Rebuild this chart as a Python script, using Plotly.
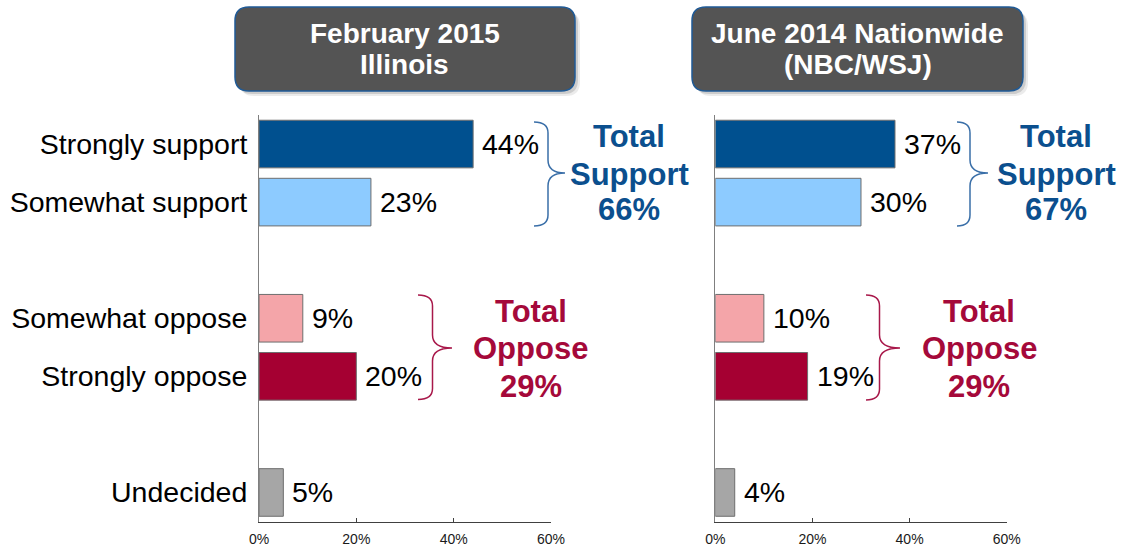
import plotly.graph_objects as go

# ---------------- data ----------------
categories = ["Strongly support", "Somewhat support", "Somewhat oppose", "Strongly oppose", "Undecided"]
category_order = ["Strongly support", "Somewhat support", " ", "Somewhat oppose", "Strongly oppose", "  ", "Undecided"]
illinois_values = [44, 23, 9, 20, 5]
nationwide_values = [37, 30, 10, 19, 4]
bar_colors = ["#00508F", "#8DCBFF", "#F4A5A9", "#A50032", "#A6A6A6"]
panel_titles = [["February 2015", "Illinois"], ["June 2014 Nationwide", "(NBC/WSJ)"]]
total_support = [66, 67]
total_oppose = [29, 29]
x_ticks = [0, 20, 40, 60]
x_tick_labels = [f"{t}%" for t in x_ticks]

W, H = 1126, 548
FONT = "Arial, Liberation Sans, sans-serif"
BLUE_TXT = "#0B4F8E"
RED_TXT = "#A5093A"


def px(x):
    return x / W


def py(y):
    return 1 - y / H


def rrect(x0, y0, x1, y1, r):
    return (f"M {px(x0 + r)},{py(y0)} L {px(x1 - r)},{py(y0)} Q {px(x1)},{py(y0)} {px(x1)},{py(y0 + r)} "
            f"L {px(x1)},{py(y1 - r)} Q {px(x1)},{py(y1)} {px(x1 - r)},{py(y1)} "
            f"L {px(x0 + r)},{py(y1)} Q {px(x0)},{py(y1)} {px(x0)},{py(y1 - r)} "
            f"L {px(x0)},{py(y0 + r)} Q {px(x0)},{py(y0)} {px(x0 + r)},{py(y0)} Z")


def brace(xt, yt, xv, xm, ym, yb, r=11, rm=13):
    return (f"M {px(xt)},{py(yt)} Q {px(xv)},{py(yt)} {px(xv)},{py(yt + r)} "
            f"L {px(xv)},{py(ym - rm)} Q {px(xv)},{py(ym)} {px(xm)},{py(ym)} "
            f"Q {px(xv)},{py(ym)} {px(xv)},{py(ym + rm)} "
            f"L {px(xv)},{py(yb - r)} Q {px(xv)},{py(yb)} {px(xt)},{py(yb)}")


fig = go.Figure()

panels = [(illinois_values, "x", "y"), (nationwide_values, "x2", "y2")]
for vals, xa, ya in panels:
    fig.add_trace(go.Bar(
        x=vals, y=categories, orientation="h", xaxis=xa, yaxis=ya,
        marker=dict(color=bar_colors, line=dict(color="#6E6E6E", width=1)),
        width=0.82, showlegend=False, hoverinfo="skip",
    ))

annotations = []
for vals, xa, ya in panels:
    for c, v in zip(categories, vals):
        annotations.append(dict(
            x=v, y=c, xref=xa, yref=ya, text=f"{v}%", showarrow=False,
            xanchor="left", yanchor="middle", xshift=7,
            font=dict(family=FONT, size=28.5, color="#000000"),
        ))

y_dom = [(H - 521.5) / H, (H - 115) / H]
axis_common = dict(range=[0, 60], tickmode="array", tickvals=x_ticks, ticktext=x_tick_labels,
                   showgrid=False, zeroline=False, automargin=False,
                   showline=True, linecolor="#404040", linewidth=1, ticks="inside", ticklen=4,
                   tickcolor="#404040", tickfont=dict(family=FONT, size=14, color="#1A1A1A"),
                   ticklabelstandoff=5, fixedrange=True)
yaxis_common = dict(type="category", categoryorder="array", categoryarray=category_order,
                    range=[6.5, -0.5], showgrid=False, zeroline=False, showline=True, automargin=False,
                    linecolor="#7F7F7F", linewidth=1, ticks="", domain=y_dom, fixedrange=True)

shapes = []
# header boxes
boxes = [(235, 7, 575, 91), (692, 7, 1023, 91)]
for (x0, y0, x1, y1), title in zip(boxes, panel_titles):
    shapes.append(dict(type="path", xref="paper", yref="paper", path=rrect(x0 + 5, y0 + 5, x1 + 5, y1 + 5, 14),
                       fillcolor="rgba(0,0,0,0.08)", line=dict(width=0), layer="above"))
    shapes.append(dict(type="path", xref="paper", yref="paper", path=rrect(x0 + 3, y0 + 3, x1 + 3, y1 + 3, 14),
                       fillcolor="rgba(0,0,0,0.13)", line=dict(width=0), layer="above"))
    shapes.append(dict(type="path", xref="paper", yref="paper", path=rrect(x0, y0, x1, y1, 14),
                       fillcolor="#545454", line=dict(color="#1F5A96", width=1.5), layer="above"))
    cx = (x0 + x1) / 2
    for line_text, ly in zip(title, [34, 65]):
        annotations.append(dict(x=px(cx), y=py(ly), xref="paper", yref="paper", text=f"<b>{line_text}</b>",
                                showarrow=False, xanchor="center", yanchor="middle",
                                font=dict(family=FONT, size=28, color="#FFFFFF")))

# braces
shapes.append(dict(type="path", xref="paper", yref="paper", path=brace(534, 122, 548, 565, 173, 226),
                   line=dict(color="#3A6FA8", width=1.5)))
shapes.append(dict(type="path", xref="paper", yref="paper", path=brace(418, 295, 432.5, 452, 348, 399.5),
                   line=dict(color="#A8184A", width=1.5)))
shapes.append(dict(type="path", xref="paper", yref="paper", path=brace(957, 122, 970, 988, 173, 226),
                   line=dict(color="#3A6FA8", width=1.5)))
shapes.append(dict(type="path", xref="paper", yref="paper", path=brace(866, 295, 879.5, 900, 348, 400),
                   line=dict(color="#A8184A", width=1.5)))

# totals text
total_blocks = [
    (629, [136, 174, 210], ["Total", "Support", f"{total_support[0]}%"], BLUE_TXT),
    (530.5, [311, 348.5, 386], ["Total", "Oppose", f"{total_oppose[0]}%"], RED_TXT),
    (1056, [136, 174, 210], ["Total", "Support", f"{total_support[1]}%"], BLUE_TXT),
    (979, [311, 348.5, 386], ["Total", "Oppose", f"{total_oppose[1]}%"], RED_TXT),
]
for cx, ys, texts, col in total_blocks:
    for t, yy in zip(texts, ys):
        annotations.append(dict(x=px(cx), y=py(yy), xref="paper", yref="paper", text=f"<b>{t}</b>",
                                showarrow=False, xanchor="center", yanchor="middle",
                                font=dict(family=FONT, size=31, color=col)))

fig.update_layout(
    template="none",
    width=W, height=H, autosize=False,
    margin=dict(l=0, r=0, t=0, b=0, pad=0, autoexpand=False),
    paper_bgcolor="white", plot_bgcolor="white",
    xaxis=dict(domain=[259 / W, 551 / W], anchor="y", **axis_common),
    xaxis2=dict(domain=[715.3 / W, 1006.7 / W], anchor="y2", **axis_common),
    yaxis=dict(anchor="x", showticklabels=True, ticklabelstandoff=5,
               tickfont=dict(family=FONT, size=28.5, color="#000000"), **yaxis_common),
    yaxis2=dict(anchor="x2", showticklabels=False, **yaxis_common),
    shapes=shapes,
    annotations=annotations,
)

fig.write_html("out.html",
               config={"responsive": False, "displayModeBar": False, "staticPlot": True},
               post_script="document.body.style.margin='0';document.body.style.overflow='hidden';")
